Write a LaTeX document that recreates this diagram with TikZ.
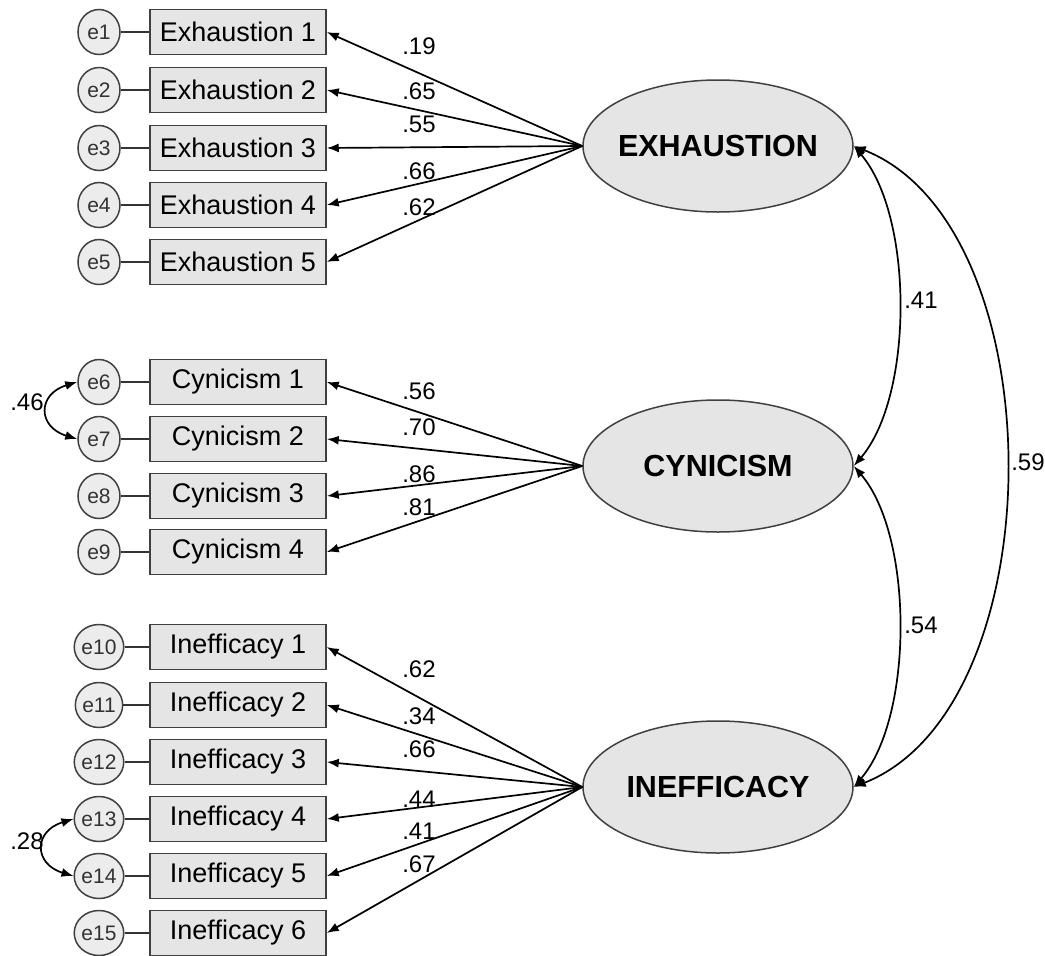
\documentclass[tikz,border=0pt]{standalone}
\usepackage{fontspec}
\setmainfont{Liberation Sans}
\usetikzlibrary{shapes.geometric,arrows.meta}

\begin{document}
\begin{tikzpicture}[x=1pt,y=-1pt,
  item/.style={draw=black!75, line width=1.5pt, fill=gray!20, minimum width=176pt,
    minimum height=45pt, inner sep=0pt, font=\fontsize{27}{30}\selectfont},
  err/.style={ellipse, draw=black!75, line width=1.5pt, fill=gray!15, minimum width=42pt,
    minimum height=45pt, inner sep=0pt, text=black!80, font=\fontsize{21}{23}\selectfont},
  latent/.style={ellipse, draw=black!75, line width=1.5pt, fill=gray!20, minimum width=270pt,
    minimum height=132pt, inner xsep=-30pt, inner ysep=0pt, font=\fontsize{30.5}{33}\selectfont\bfseries},
  load/.style={-{Latex[length=12pt,width=9pt]}, line width=1.7pt},
  cov/.style={{Latex[length=12pt,width=9pt]}-{Latex[length=12pt,width=9pt]}, line width=1.7pt},
  coef/.style={font=\fontsize{24}{26}\selectfont, inner sep=0pt},
  link/.style={line width=1.6pt, draw=black!80}
]
\useasboundingbox (0,0) rectangle (1045,956);

% observed indicators with their error terms
\foreach \n/\y in {1/32,2/90,3/148,4/205,5/262} {
  \node[err] (e\n) at (99,\y) {e\n};
  \node[item] (v\n) at (238,\y) {Exhaustion \n};
  \draw[link] (e\n) -- (v\n);
}
\foreach \k/\n/\y in {1/6/382,2/7/439,3/8/496,4/9/552} {
  \node[err] (e\n) at (99,\y) {e\n};
  \node[item] (v\n) at (238,\y) {Cynicism \k};
  \draw[link] (e\n) -- (v\n);
}
\foreach \k/\n/\y in {1/10/647,2/11/705,3/12/762,4/13/819,5/14/876,6/15/933} {
  \node[err] (e\n) at (99,\y) {e\n};
  \node[item] (v\n) at (238,\y) {Inefficacy \k};
  \draw[link] (e\n) -- (v\n);
}

% latent factors
\node[latent] (EX) at (718,146) {EXHAUSTION};
\node[latent] (CY) at (718,466) {CYNICISM};
\node[latent] (IN) at (718,787) {INEFFICACY};

% factor loadings
\foreach \n in {1,...,5} \draw[load] (EX.west) -- (v\n.east);
\foreach \n in {6,...,9} \draw[load] (CY.west) -- (v\n.east);
\foreach \n in {10,...,15} \draw[load] (IN.west) -- (v\n.east);

\node[coef] (l1) at (419,46) {.19};
\node[coef] (l2) at (419,91) {.65};
\node[coef] (l3) at (419,124) {.55};
\node[coef] (l4) at (419,171) {.66};
\node[coef] (l5) at (419,207) {.62};

\node[coef] (l6) at (419,391) {.56};
\node[coef] (l7) at (419,427) {.70};
\node[coef] (l8) at (419,474) {.86};
\node[coef] (l9) at (419,507) {.81};

\node[coef] (l10) at (419,669) {.62};
\node[coef] (l11) at (419,716) {.34};
\node[coef] (l12) at (419,749) {.66};
\node[coef] (l13) at (419,799) {.44};
\node[coef] (l14) at (419,831) {.41};
\node[coef] (l15) at (419,864) {.67};

% factor correlations
\draw[cov] (EX.east) .. controls +(60,70) and +(60,-70) .. (CY.east);
\draw[cov] (CY.east) .. controls +(60,70) and +(60,-70) .. (IN.east);
\draw[cov] (EX.east) .. controls +(203,80) and +(203,-80) .. (IN.east);
\node[coef] (r1) at (921,300) {.41};
\node[coef] (r2) at (921,625) {.54};
\node[coef] (r3) at (1028,462) {.59};

% correlated error terms
\draw[cov] (e6.west) .. controls +(-40,12) and +(-40,-12) .. (e7.west);
\draw[cov] (e13.west) .. controls +(-40,12) and +(-40,-12) .. (e14.west);
\node[coef] (c1) at (27,402) {.46};
\node[coef] (c2) at (27,841) {.28};
\end{tikzpicture}
\end{document}
